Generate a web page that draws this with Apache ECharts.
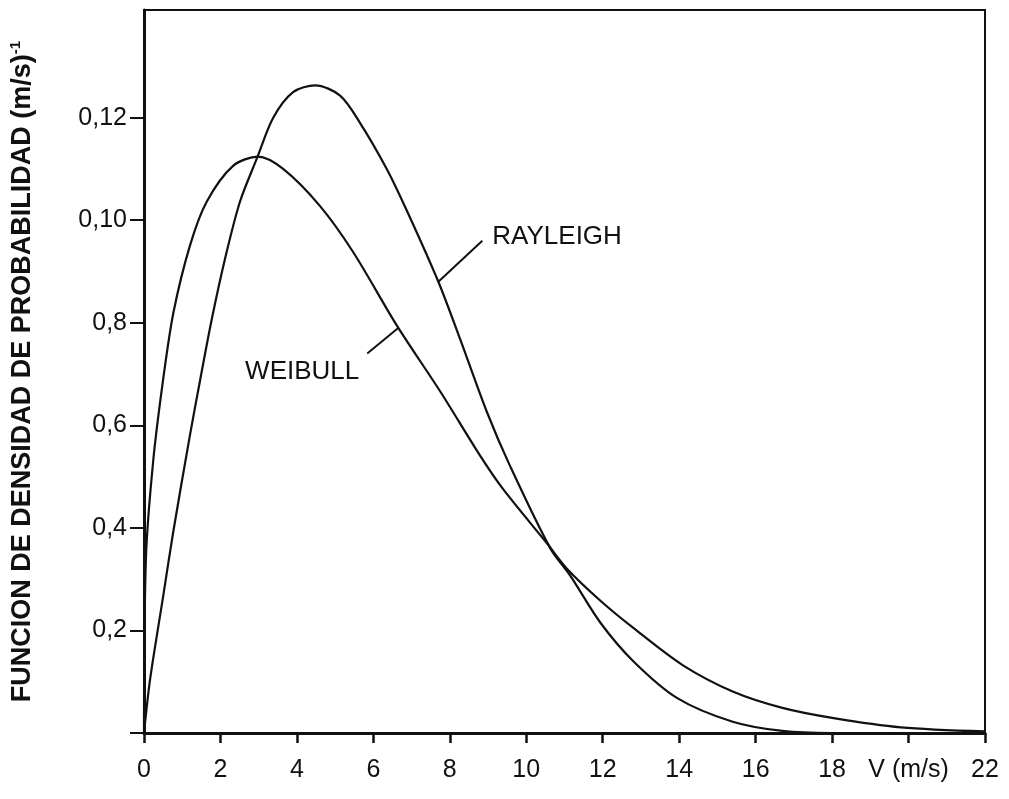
<!DOCTYPE html>
<html>
<head>
<meta charset="utf-8">
<script src="https://cdn.jsdelivr.net/npm/echarts@6/dist/echarts.min.js"></script>
<style>
  html, body { margin: 0; padding: 0; background: #fff; }
  #grafico { width: 1009px; height: 799px; }
</style>
</head>
<body>
<div id="grafico"></div>
<script>
// velocidades (m/s) y densidad
const rayleighV = [0, 0.16, 0.5, 0.76, 1.2, 1.47, 1.77, 2.12, 2.51, 2.95, 3.38, 3.9, 4.48, 5.13, 5.65, 6.35, 6.88, 7.7, 8.27, 8.97, 9.58, 10.63, 11.15, 11.94, 12.8, 13.95, 15.4, 16.7, 18, 20, 22];
const rayleighF = [0, 0.0105, 0.0266, 0.039, 0.058, 0.0689, 0.0806, 0.0925, 0.1036, 0.112, 0.120, 0.125, 0.1263, 0.1243, 0.119, 0.110, 0.1018, 0.088, 0.0768, 0.0626, 0.052, 0.036, 0.0307, 0.0215, 0.014, 0.0068, 0.0022, 0.0004, 0, 0, 0];

const weibullV = [0, 0.05, 0.24, 0.5, 0.77, 1.2, 1.64, 2.33, 2.98, 3.64, 4.6, 5.47, 6.62, 7.75, 8.8, 9.4, 10.54, 11.07, 11.94, 12.8, 14.1, 15.4, 16.7, 18.04, 19.8, 22];
const weibullF = [0, 0.034, 0.053, 0.0689, 0.082, 0.095, 0.1036, 0.1106, 0.1124, 0.110, 0.1028, 0.0938, 0.0794, 0.0666, 0.054, 0.0475, 0.037, 0.032, 0.0258, 0.0205, 0.0132, 0.0081, 0.0049, 0.0029, 0.0011, 0.0003];

// etiquetas de los ejes
const yTicks = [0.02, 0.04, 0.06, 0.08, 0.10, 0.12];
const yTickText = ['0,2', '0,4', '0,6', '0,8', '0,10', '0,12'];
const xTickText = ['0', '2', '4', '6', '8', '10', '12', '14', '16', '18', 'V (m/s)', '22'];

// rotulos de las curvas: [punto sobre la curva, extremo del trazo]
const rayleighTag = [[7.7, 0.088], [8.85, 0.096]];
const weibullTag = [[6.65, 0.079], [5.84, 0.074]];

const fuente = "'Liberation Sans', sans-serif";

const chart = echarts.init(document.getElementById('grafico'));

function curva(nombre, xs, ys, tag, pos, offset) {
    return {
        name: nombre,
        type: 'line',
        data: xs.map((v, i) => [v, ys[i]]),
        showSymbol: false,
        smooth: 0.3,
        lineStyle: { color: '#111', width: 2.2 },
        silent: true,
        markLine: {
            silent: true,
            symbol: 'none',
            label: { show: false },
            lineStyle: { color: '#111', width: 2, type: 'solid' },
            data: [[{ coord: tag[0] }, { coord: tag[1] }]]
        },
        markPoint: {
            silent: true,
            symbol: 'circle',
            symbolSize: 0,
            label: {
                show: true,
                position: pos,
                offset: offset,
                distance: 8,
                formatter: nombre,
                color: '#111',
                fontFamily: fuente,
                fontSize: 26
            },
            data: [{ coord: tag[1] }]
        }
    };
}

chart.setOption({
    animation: false,
    backgroundColor: '#fff',
    grid: {
        left: 144, right: 24, top: 10, bottom: 66,
        show: true, borderColor: '#111', borderWidth: 2
    },
    xAxis: {
        type: 'value', min: 0, max: 22, interval: 2,
        axisLine: { lineStyle: { color: '#111', width: 3 } },
        axisTick: { length: 10, lineStyle: { color: '#111', width: 2.5 } },
        axisLabel: {
            margin: 25, color: '#111', fontFamily: fuente, fontSize: 25,
            formatter: v => xTickText[Math.round(v / 2)]
        },
        splitLine: { show: false }
    },
    yAxis: {
        type: 'value', min: 0, max: 0.141,
        axisLine: { show: true, lineStyle: { color: '#111', width: 3 } },
        axisTick: { show: true, length: 14, customValues: [0].concat(yTicks), lineStyle: { color: '#111', width: 2 } },
        axisLabel: {
            margin: 17, color: '#111', fontFamily: fuente, fontSize: 25,
            customValues: yTicks,
            formatter: v => {
                const i = yTicks.findIndex(t => Math.abs(t - v) < 1e-6);
                return i >= 0 ? yTickText[i] : '';
            }
        },
        splitLine: { show: false },
        name: '{a|FUNCION DE DENSIDAD DE PROBABILIDAD (m/s)}{b|-1}',
        nameLocation: 'middle',
        nameGap: 106,
        nameTextStyle: {
            rich: {
                a: { fontFamily: fuente, fontSize: 27, fontWeight: 'bold', color: '#111', lineHeight: 30 },
                b: { fontFamily: fuente, fontSize: 15, fontWeight: 'bold', color: '#111', verticalAlign: 'top', lineHeight: 30 }
            }
        }
    },
    series: [
        curva('RAYLEIGH', rayleighV, rayleighF, rayleighTag, 'right', [2, -4]),
        curva('WEIBULL', weibullV, weibullF, weibullTag, 'left', [0, 18])
    ]
});

window.addEventListener('resize', () => chart.resize());
</script>
</body>
</html>
